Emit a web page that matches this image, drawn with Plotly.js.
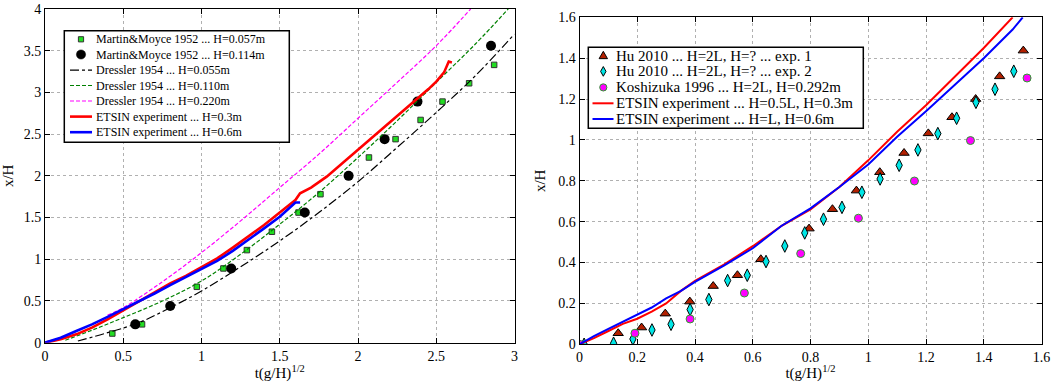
<!DOCTYPE html>
<html>
<head>
<meta charset="utf-8">
<script src="https://cdn.plot.ly/plotly-3.0.1.min.js"></script>
<style>html,body{margin:0;padding:0;background:#fff;}#chart{width:1058px;height:382px;}</style>
</head>
<body>
<div id="chart"></div>
<script>
// ---------- Left panel data ----------
const mm057_t = [0.43,0.62,0.97,1.14,1.29,1.45,1.62,1.76,2.07,2.24,2.40,2.54,2.71,2.87];
const mm057_v = [0.11,0.22,0.67,0.89,1.11,1.33,1.56,1.78,2.22,2.44,2.67,2.89,3.11,3.33];
const mm114_t = [0.577,0.80,1.19,1.66,1.94,2.17,2.38,2.85];
const mm114_v = [0.22,0.44,0.89,1.56,2.00,2.44,2.89,3.56];
const dr055_t = [0.21,0.4,0.6,0.8,1.0,1.25,1.5,1.75,2.0,2.25,2.5,2.75,3.0];
const dr055_v = [0.02,0.12,0.24,0.42,0.62,0.91,1.22,1.56,1.93,2.34,2.76,3.2,3.7];
const dr110_t = [0.13,0.3,0.5,0.75,1.0,1.25,1.5,1.75,2.0,2.25,2.5,2.75,2.96];
const dr110_v = [0.03,0.15,0.3,0.5,0.74,1.06,1.42,1.8,2.22,2.66,3.12,3.58,4.0];
const dr220_t = [0.4,0.5,0.75,1.0,1.25,1.5,1.75,2.0,2.25,2.5,2.72];
const dr220_v = [0.33,0.42,0.73,1.08,1.46,1.86,2.26,2.69,3.12,3.56,4.0];
const et03_t = [0,0.1,0.2,0.3,0.4,0.5,0.6,0.7,0.8,0.9,1.0,1.1,1.2,1.3,1.4,1.5,1.6,1.63,1.7,1.8,1.9,2.0,2.1,2.2,2.3,2.4,2.45,2.5,2.55,2.58,2.6];
const et03_v = [0,0.04,0.1,0.18,0.28,0.39,0.5,0.61,0.71,0.8,0.9,1.01,1.14,1.27,1.41,1.56,1.71,1.79,1.86,1.99,2.15,2.32,2.48,2.63,2.79,2.95,3.04,3.13,3.24,3.37,3.36];
const et06_t = [0,0.1,0.2,0.3,0.4,0.5,0.6,0.7,0.8,0.9,1.0,1.1,1.2,1.3,1.4,1.5,1.58,1.6,1.63];
const et06_v = [0,0.06,0.14,0.22,0.31,0.4,0.49,0.59,0.69,0.79,0.88,0.98,1.1,1.23,1.37,1.51,1.64,1.68,1.68];

// ---------- Right panel data ----------
const hu1_t = [0.134,0.215,0.297,0.382,0.463,0.547,0.628,0.795,0.876,0.959,1.04,1.124,1.208,1.29,1.372,1.455,1.537];
const hu1_v = [0.054,0.082,0.15,0.209,0.285,0.338,0.416,0.566,0.661,0.752,0.842,0.936,1.032,1.111,1.2,1.311,1.437];
const hu2_t = [0.016,0.118,0.185,0.251,0.317,0.383,0.448,0.513,0.581,0.646,0.711,0.78,0.845,0.909,0.978,1.041,1.107,1.172,1.241,1.306,1.373,1.439,1.504];
const hu2_v = [0,0.005,0.026,0.07,0.098,0.17,0.219,0.312,0.338,0.405,0.481,0.545,0.612,0.67,0.744,0.809,0.876,0.951,1.031,1.106,1.184,1.248,1.336];
const ko_t = [0,0.192,0.383,0.571,0.766,0.966,1.16,1.354,1.55];
const ko_v = [0,0.054,0.124,0.251,0.444,0.617,0.799,0.997,1.303];
const er_t = [0,0.05,0.1,0.15,0.2,0.25,0.3,0.35,0.4,0.45,0.5,0.6,0.7,0.8,0.9,1.0,1.1,1.2,1.3,1.4,1.5];
const er_v = [0,0.03,0.065,0.1,0.125,0.16,0.2,0.26,0.31,0.35,0.39,0.48,0.58,0.66,0.77,0.9,1.04,1.17,1.31,1.45,1.6];
const eb_t = [0,0.05,0.1,0.15,0.2,0.25,0.3,0.35,0.4,0.5,0.6,0.7,0.8,0.9,1.0,1.1,1.2,1.3,1.4,1.5,1.535];
const eb_v = [0,0.04,0.075,0.11,0.145,0.18,0.225,0.26,0.305,0.385,0.47,0.58,0.665,0.77,0.88,1.015,1.14,1.27,1.4,1.54,1.6];

const labelsL = ["Martin&Moyce 1952 ... H=0.057m","Martin&Moyce 1952 ... H=0.114m","Dressler 1954 ... H=0.055m","Dressler 1954 ... H=0.110m","Dressler 1954 ... H=0.220m","ETSIN experiment ... H=0.3m","ETSIN experiment ... H=0.6m"];
const labelsR = ["Hu 2010 ... H=2L, H=? ... exp. 1","Hu 2010 ... H=2L, H=? ... exp. 2","Koshizuka 1996 ... H=2L, H=0.292m","ETSIN experiment ... H=0.5L, H=0.3m","ETSIN experiment ... H=L, H=0.6m"];
const xTitle = "t(g/H)<sup>1/2</sup>";
const yTitle = "x/H";

const FONT = "'Liberation Serif', 'DejaVu Serif', serif";
const W = 1058, H = 382;

const traces = [
  {x:mm057_t,y:mm057_v,name:labelsL[0],mode:'markers',type:'scatter',xaxis:'x',yaxis:'y',
   marker:{symbol:'square',size:5.5,color:'#22dd22',line:{color:'#333333',width:1}}},
  {x:mm114_t,y:mm114_v,name:labelsL[1],mode:'markers',type:'scatter',xaxis:'x',yaxis:'y',
   marker:{symbol:'circle',size:10,color:'#000000',line:{color:'#000000',width:0}}},
  {x:dr055_t,y:dr055_v,name:labelsL[2],mode:'lines',type:'scatter',xaxis:'x',yaxis:'y',line:{shape:'spline',color:'#000000',width:1.2,dash:'dashdot'}},
  {x:dr110_t,y:dr110_v,name:labelsL[3],mode:'lines',type:'scatter',xaxis:'x',yaxis:'y',line:{shape:'spline',color:'#008000',width:1.2,dash:'4px,2px'}},
  {x:dr220_t,y:dr220_v,name:labelsL[4],mode:'lines',type:'scatter',xaxis:'x',yaxis:'y',line:{shape:'spline',color:'#ff00ff',width:1.2,dash:'4px,2px'}},
  {x:et03_t,y:et03_v,name:labelsL[5],mode:'lines',type:'scatter',xaxis:'x',yaxis:'y',line:{color:'#ff0000',width:2.6}},
  {x:et06_t,y:et06_v,name:labelsL[6],mode:'lines',type:'scatter',xaxis:'x',yaxis:'y',line:{color:'#0000ff',width:2.6}},

  {x:hu1_t,y:hu1_v,name:labelsR[0],mode:'markers',type:'scatter',xaxis:'x2',yaxis:'y2',
   marker:{symbol:'triangle-up',size:9,color:'#b32000',line:{color:'#000000',width:1}}},
  {x:hu2_t,y:hu2_v,name:labelsR[1],mode:'markers',type:'scatter',xaxis:'x2',yaxis:'y2',
   marker:{symbol:'diamond-tall',size:9,color:'#00e6e6',line:{color:'#000000',width:1}}},
  {x:ko_t,y:ko_v,name:labelsR[2],mode:'markers',type:'scatter',xaxis:'x2',yaxis:'y2',
   marker:{symbol:'circle',size:8,color:'#ff00ff',line:{color:'#2ca02c',width:1}}},
  {x:er_t,y:er_v,name:labelsR[3],mode:'lines',type:'scatter',xaxis:'x2',yaxis:'y2',line:{color:'#ff0000',width:2}},
  {x:eb_t,y:eb_v,name:labelsR[4],mode:'lines',type:'scatter',xaxis:'x2',yaxis:'y2',line:{color:'#0000ff',width:2}}
];

// ----- compact legends drawn as paper shapes + annotations (legend glyphs only) -----
const px = v => v / W, py = v => 1 - v / H;
const shapes = [], annotations = [];
function legendBox(x0, y0, x1, y1) {
  shapes.push({type:'rect', xref:'paper', yref:'paper', x0:px(x0), x1:px(x1), y0:py(y1), y1:py(y0),
    line:{color:'#000', width:1.5}, fillcolor:'#fff', layer:'above'});
}
function sample(kind, cx, cy, style, lx0, lx1) {
  if (kind === 'line') {
    shapes.push({type:'line', xref:'paper', yref:'paper', x0:px(lx0), x1:px(lx1), y0:py(cy), y1:py(cy),
      line:style, layer:'above'});
  } else if (kind === 'square' || kind === 'circle') {
    const r = style.r;
    shapes.push({type: kind === 'square' ? 'rect' : 'circle', xref:'paper', yref:'paper',
      x0:px(cx - r), x1:px(cx + r), y0:py(cy + r), y1:py(cy - r),
      fillcolor:style.fill, line:{color:style.edge, width:style.w}, layer:'above'});
  } else if (kind === 'triangle' || kind === 'diamond') {
    const r = style.r;
    const pts = kind === 'triangle'
      ? [[cx, cy - r], [cx + r, cy + r * 0.75], [cx - r, cy + r * 0.75]]
      : [[cx, cy - r * 1.35], [cx + r * 0.75, cy], [cx, cy + r * 1.35], [cx - r * 0.75, cy]];
    const path = 'M' + pts.map(p => px(p[0]).toFixed(5) + ',' + py(p[1]).toFixed(5)).join('L') + 'Z';
    shapes.push({type:'path', xref:'paper', yref:'paper', path:path,
      fillcolor:style.fill, line:{color:style.edge, width:style.w}, layer:'above'});
  }
}
function label(text, x, y, size) {
  annotations.push({text:text, xref:'paper', yref:'paper', x:px(x), y:py(y), xanchor:'left', yanchor:'middle',
    showarrow:false, font:{family:FONT, size:size, color:'#000'}});
}

// left legend
legendBox(64.3, 30.7, 289.3, 142.3);
const rowsL = [39.3, 54.5, 70.2, 85.5, 101, 116.6, 132.2];
sample('square', 81, rowsL[0], {r:2.6, fill:'#22dd22', edge:'#333', w:1});
sample('circle', 81, rowsL[1], {r:4.6, fill:'#000', edge:'#000', w:0.5});
sample('line', 0, rowsL[2], {color:'#000', width:1.2, dash:'dashdot'}, 70, 92);
sample('line', 0, rowsL[3], {color:'#008000', width:1.2, dash:'4px,2px'}, 70, 92);
sample('line', 0, rowsL[4], {color:'#ff00ff', width:1.2, dash:'4px,2px'}, 70, 92);
sample('line', 0, rowsL[5], {color:'#ff0000', width:2.6}, 70, 92);
sample('line', 0, rowsL[6], {color:'#0000ff', width:2.6}, 70, 92);
labelsL.forEach((t, i) => label(t, 93.5, rowsL[i], 12));

// right legend
legendBox(588.3, 47.3, 863.3, 128.3);
const rowsR = [55.5, 71.4, 87.4, 103.3, 119];
sample('triangle', 603.3, rowsR[0], {r:4.2, fill:'#b32000', edge:'#000', w:1});
sample('diamond', 603.3, rowsR[1], {r:3.6, fill:'#00e6e6', edge:'#000', w:1});
sample('circle', 603.3, rowsR[2], {r:3.6, fill:'#ff00ff', edge:'#2ca02c', w:1});
sample('line', 0, rowsR[3], {color:'#ff0000', width:2}, 592.5, 613.5);
sample('line', 0, rowsR[4], {color:'#0000ff', width:2}, 592.5, 613.5);
labelsR.forEach((t, i) => label(t, 613.5, rowsR[i], 15));

const axBase = {
  showline:true, linecolor:'#000', linewidth:1, mirror:'ticks',
  ticks:'inside', ticklen:5, tickcolor:'#000',
  showgrid:true, gridcolor:'#b0b0b0', griddash:'dot', gridwidth:1,
  zeroline:false, tickfont:{family:FONT,size:14,color:'#000'},
  automargin:false, fixedrange:true
};

const layout = {
  width:W, height:H,
  margin:{l:0,r:0,t:0,b:0},
  paper_bgcolor:'#fff', plot_bgcolor:'#fff',
  font:{family:FONT,color:'#000'},
  showlegend:false,
  xaxis:Object.assign({},axBase,{domain:[45/W,514.5/W],range:[0,3],dtick:0.5,anchor:'y',
    title:{text:xTitle,font:{family:FONT,size:15},standoff:4}}),
  yaxis:Object.assign({},axBase,{domain:[1-342.7/H,1-9/H],range:[0,4],dtick:0.5,anchor:'x',
    title:{text:yTitle,font:{family:FONT,size:15},standoff:8}}),
  xaxis2:Object.assign({},axBase,{domain:[579.5/W,1041.5/W],range:[0,1.6],dtick:0.2,anchor:'y2',
    title:{text:xTitle,font:{family:FONT,size:15},standoff:4}}),
  yaxis2:Object.assign({},axBase,{domain:[1-344.3/H,1-17.3/H],range:[0,1.6],dtick:0.2,anchor:'x2',
    title:{text:yTitle,font:{family:FONT,size:15},standoff:8}}),
  shapes:shapes,
  annotations:annotations
};

Plotly.newPlot('chart', traces, layout, {displayModeBar:false, staticPlot:true});
</script>
</body>
</html>
